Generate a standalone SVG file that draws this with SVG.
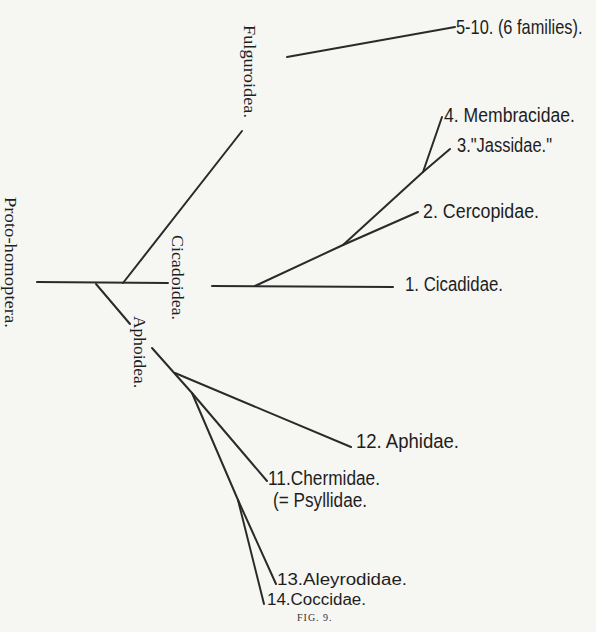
<svg xmlns="http://www.w3.org/2000/svg" width="596" height="632" viewBox="0 0 596 632">
<style>
.e{stroke:#2a2a2a;stroke-width:2;fill:none;stroke-linecap:round}
.l{font-family:"Liberation Sans",Arial,sans-serif;font-size:20px;fill:#1e1e1e}
.s{font-size:16px}
.v{font-family:"Liberation Serif","Times New Roman",serif;font-size:17px;fill:#1e1e1e}
.f{font-family:"Liberation Serif","Times New Roman",serif;font-size:10px;fill:#333;letter-spacing:1px}
</style>
<rect width="596" height="632" fill="#f6f6f3"/>
<g id="connectors">
<line class="e" x1="37" y1="282" x2="168" y2="283"/>
<line class="e" x1="123" y1="283" x2="242" y2="131"/>
<line class="e" x1="96" y1="284" x2="130" y2="324"/>
<line class="e" x1="287" y1="57" x2="455" y2="27"/>
<line class="e" x1="212" y1="286" x2="393" y2="287"/>
<line class="e" x1="255" y1="286" x2="343" y2="245"/>
<line class="e" x1="343" y1="245" x2="418" y2="212"/>
<line class="e" x1="343" y1="245" x2="423" y2="172"/>
<line class="e" x1="423" y1="172" x2="442" y2="117"/>
<line class="e" x1="423" y1="172" x2="450" y2="149"/>
<line class="e" x1="152" y1="348" x2="192" y2="393"/>
<line class="e" x1="175" y1="373" x2="351" y2="447"/>
<line class="e" x1="192" y1="393" x2="267" y2="481"/>
<line class="e" x1="192" y1="393" x2="238" y2="500"/>
<line class="e" x1="238" y1="500" x2="276" y2="584"/>
<line class="e" x1="238" y1="500" x2="264" y2="604"/>
</g>
<g id="proto"><text class="v" transform="translate(5,197) rotate(90)" textLength="131" lengthAdjust="spacingAndGlyphs">Proto-homoptera.</text></g>
<g id="fulguroidea"><text class="v" transform="translate(244,25) rotate(90)" textLength="93" lengthAdjust="spacingAndGlyphs">Fulguroidea.</text></g>
<g id="cicadoidea"><text class="v" transform="translate(172,235) rotate(90)" textLength="85" lengthAdjust="spacingAndGlyphs">Cicadoidea.</text></g>
<g id="aphoidea"><text class="v" transform="translate(134,316) rotate(90)" textLength="72" lengthAdjust="spacingAndGlyphs">Aphoidea.</text></g>
<g id="n5-10"><text class="l" transform="translate(456,34) scale(0.82,1)">5-10. (6 families).</text></g>
<g id="n4"><text class="l" x="444" y="122" textLength="131" lengthAdjust="spacingAndGlyphs">4. Membracidae.</text></g>
<g id="n3"><text class="l" x="457" y="152" textLength="95" lengthAdjust="spacingAndGlyphs">3."Jassidae."</text></g>
<g id="n2"><text class="l" x="423" y="218" textLength="116" lengthAdjust="spacingAndGlyphs">2. Cercopidae.</text></g>
<g id="n1"><text class="l" x="405" y="291" textLength="98" lengthAdjust="spacingAndGlyphs">1. Cicadidae.</text></g>
<g id="n12"><text class="l" x="356" y="448" textLength="103" lengthAdjust="spacingAndGlyphs">12. Aphidae.</text></g>
<g id="n11"><text class="l" x="268" y="485" textLength="112" lengthAdjust="spacingAndGlyphs">11.Chermidae.</text><text class="l" x="273" y="507" textLength="94" lengthAdjust="spacingAndGlyphs">(= Psyllidae.</text></g>
<g id="n13"><text class="l s" x="277" y="585" textLength="130" lengthAdjust="spacingAndGlyphs">13.Aleyrodidae.</text></g>
<g id="n14"><text class="l s" x="267" y="605" textLength="99" lengthAdjust="spacingAndGlyphs">14.Coccidae.</text></g>
<text class="f" x="297" y="621">FIG. 9.</text>
</svg>
